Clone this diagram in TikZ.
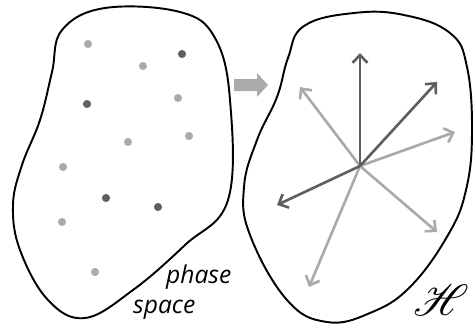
\documentclass[tikz,border=0pt]{standalone}
\usepackage{fontspec}
\usepackage{mathrsfs}
\usepackage{tikz}
\usetikzlibrary{arrows.meta}
\newfontfamily\handfont{Open Sans}
\definecolor{dotlight}{RGB}{170,170,170}
\definecolor{dotdark}{RGB}{95,95,95}
\tikzset{
  outline/.style={line width=1.1pt, black},
  lightdot/.style={circle, fill=dotlight, inner sep=0pt, minimum size=4.6pt},
  darkdot/.style={circle, fill=dotdark, inner sep=0pt, minimum size=4.6pt},
  lightvec/.style={dotlight, line width=1.5pt, -{Straight Barb[length=4.5pt,width=8.5pt]}},
  darkvec/.style={dotdark, line width=1.5pt, -{Straight Barb[length=4.5pt,width=8.5pt]}}
}
\begin{document}
\begin{tikzpicture}[x=0.02cm, y=-0.02cm]
  \useasboundingbox (0,0) rectangle (474,326);

  % Phase space
  \draw[outline] plot[smooth cycle, tension=0.65] coordinates {
    (62,30) (105,8) (180,12) (215,38) (230,100) (228,200)
    (185,245) (133,290) (85,318) (48,300) (20,250) (13,205)
    (22,165) (40,120) (52,72)};
  \node[lightdot] (p1) at (88,44) {};
  \node[lightdot] (p2) at (143,66) {};
  \node[lightdot] (p3) at (178,98) {};
  \node[lightdot] (p4) at (189,136) {};
  \node[lightdot] (p5) at (128,142) {};
  \node[lightdot] (p6) at (63,167) {};
  \node[lightdot] (p7) at (62,222) {};
  \node[lightdot] (p8) at (95,272) {};
  \node[darkdot] (q1) at (182,54) {};
  \node[darkdot] (q2) at (87,104) {};
  \node[darkdot] (q3) at (106,198) {};
  \node[darkdot] (q4) at (158,207) {};
  \node[anchor=west, font=\handfont\itshape\fontsize{14}{14}\selectfont] (phase) at (160,277) {phase};
  \node[anchor=west, font=\handfont\itshape\fontsize{14}{14}\selectfont] (space) at (127,310) {space};

  % Map
  \fill[dotlight] (234,79) -- (257,79) -- (257,73) -- (268,85) -- (257,97) -- (257,91) -- (234,91) -- cycle;

  % Hilbert space
  \draw[outline] plot[smooth cycle, tension=0.7] coordinates {
    (304,26) (354,13) (404,15) (450,33) (467,67) (472,133)
    (466,190) (448,235) (410,287) (370,313) (327,322) (287,300)
    (250,235) (244,187) (257,140) (277,97) (288,58)};
  \coordinate (c) at (360,166);
  \coordinate (v1) at (360,53);
  \coordinate (v2) at (437,82);
  \coordinate (v3) at (455,132);
  \coordinate (v4) at (437,232);
  \coordinate (v5) at (309,287);
  \coordinate (v6) at (277,205);
  \coordinate (v7) at (300,87);
  \draw[lightvec] (c) -- (v3);
  \draw[lightvec] (c) -- (v4);
  \draw[lightvec] (c) -- (v5);
  \draw[lightvec] (c) -- (v7);
  \draw[darkvec] (c) -- (v1);
  \draw[darkvec] (c) -- (v2);
  \draw[darkvec] (c) -- (v6);
  \node[font=\fontsize{32}{32}\selectfont] (hilb) at (441,300) {$\mathscr{H}$};
\end{tikzpicture}
\end{document}
